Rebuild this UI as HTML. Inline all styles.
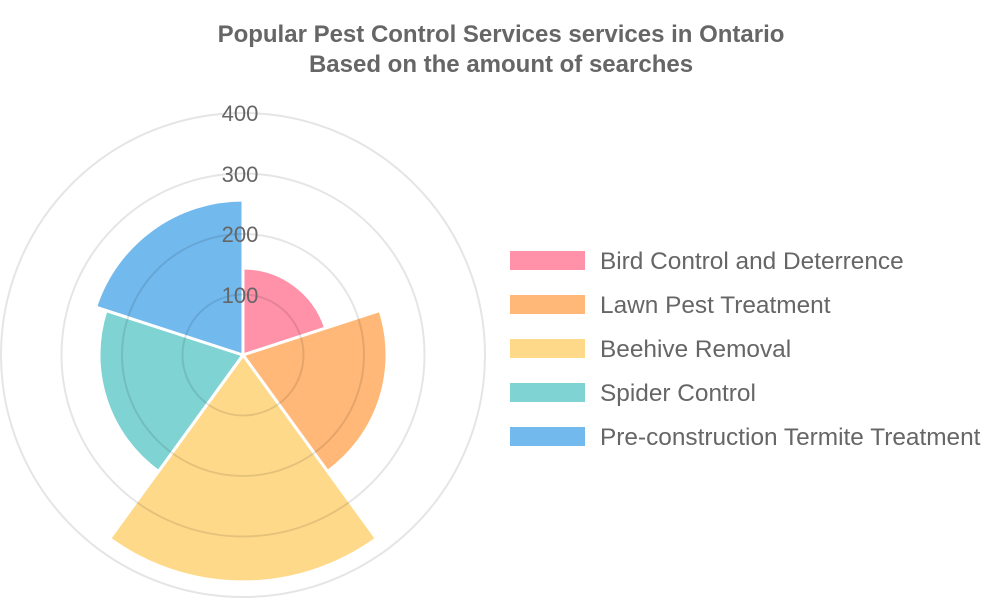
<!DOCTYPE html>
<html><head><meta charset="utf-8"><style>
body{margin:0;background:#fff;}
svg{display:block;font-family:"Liberation Sans",sans-serif;}
</style></head><body>
<svg width="1000" height="600" viewBox="0 0 1000 600">
<text x="501" y="42" text-anchor="middle" font-size="24" font-weight="bold" fill="#666">Popular Pest Control Services services in Ontario</text>
<text x="501" y="72" text-anchor="middle" font-size="24" font-weight="bold" fill="#666">Based on the amount of searches</text>
<g stroke="#fff" stroke-width="3" stroke-linejoin="miter">
<path d="M243,355 L243,268 A87,87 0 0 1 325.7,328.1 Z" fill="#ff91a9"/>
<path d="M243,355 L380,310.5 A144,144 0 0 1 327.6,471.5 Z" fill="#ffb877"/>
<path d="M243,355 L376.4,538.6 A227,227 0 0 1 109.6,538.6 Z" fill="#ffd98a"/>
<path d="M243,355 L158.4,471.5 A144,144 0 0 1 106,310.5 Z" fill="#7fd3d3"/>
<path d="M243,355 L95.6,307.1 A155,155 0 0 1 243,200 Z" fill="#72b9ee"/>
</g>
<g fill="none" stroke="rgba(0,0,0,0.1)" stroke-width="2">
<circle cx="243" cy="355" r="60.5"/><circle cx="243" cy="355" r="121"/>
<circle cx="243" cy="355" r="181.5"/><circle cx="243" cy="355" r="242"/>
</g>
<g font-size="22" fill="#666" text-anchor="middle">
<text x="240" y="303">100</text><text x="240" y="242">200</text>
<text x="240" y="182">300</text><text x="240" y="121">400</text>
</g>
<g font-size="24.4" fill="#666">
<rect x="510" y="251" width="75" height="19" fill="#ff91a9"/><text x="600" y="269">Bird Control and Deterrence</text>
<rect x="510" y="295" width="75" height="19" fill="#ffb877"/><text x="600" y="313">Lawn Pest Treatment</text>
<rect x="510" y="339" width="75" height="19" fill="#ffd98a"/><text x="600" y="357">Beehive Removal</text>
<rect x="510" y="383" width="75" height="19" fill="#7fd3d3"/><text x="600" y="401">Spider Control</text>
<rect x="510" y="427" width="75" height="19" fill="#72b9ee"/><text x="600" y="445">Pre-construction Termite Treatment</text>
</g>
</svg>
</body></html>
